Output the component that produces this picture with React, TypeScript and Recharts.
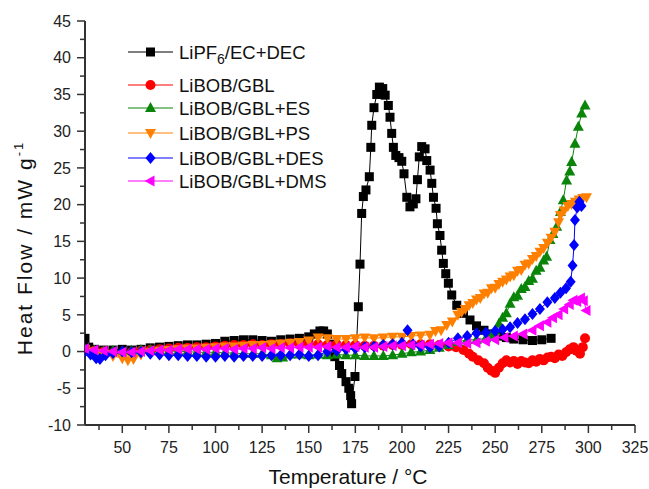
import { LineChart, Line, XAxis, YAxis, Legend } from 'recharts'

// DSC traces: [temperature °C, heat flow mW/g]
const lipf6Dec = [
  [30, 1.8], [32, 0.6], [35, 0.3], [40, 0.2], [45, 0.2], [50, 0.3], [55, 0.2], [60, 0.3], [65, 0.5], [70, 0.6],
  [75, 0.7], [80, 0.8], [85, 0.9], [90, 0.9], [95, 1.0], [100, 1.1], [105, 1.4], [110, 1.5], [115, 1.6], [120, 1.6],
  [125, 1.5], [130, 1.4], [135, 1.6], [140, 1.7], [145, 1.8], [150, 2.0], [153, 2.4], [156, 2.8], [158, 2.8], [160, 2.4],
  [162, 1.0], [164, -0.7], [166.5, -1.9], [167.7, -3.0], [170, -4.1], [171.5, -5.0], [172.5, -6.0], [173, -7.1],
  [174.8, -3.4], [176.6, 6.1], [177.5, 11.9], [178.4, 18.8], [179.3, 21.1], [180.7, 22.0], [182.5, 23.8], [183.3, 27.8],
  [183.8, 30.8], [185, 33.2], [186.5, 35.0], [187.9, 36.0], [189.7, 35.8], [191, 34.9], [192.7, 33.5], [193.6, 31.9],
  [194.5, 29.7], [195.4, 27.8], [196.7, 26.7], [198.4, 26.4], [199.9, 25.9], [201.1, 24.2], [202.6, 21.0], [204.3, 19.7],
  [206.1, 20.1], [207.5, 20.8], [208.3, 23.4], [209.3, 26.5], [210.6, 27.9], [212.4, 27.6], [213.3, 26.0], [215.1, 24.7],
  [216, 22.9], [216.9, 21.0], [218.3, 19.5], [219, 17.4], [220.4, 15.8], [221.3, 13.8], [222.2, 12.0], [223.5, 10.6],
  [224.9, 9.3], [226.7, 7.7], [229.4, 6.3], [233, 5.2], [236.5, 4.3], [240, 3.5], [244, 2.9], [248, 2.4], [252, 2.1],
  [256, 1.9], [260, 1.7], [265, 1.6], [270, 1.5], [275, 1.6], [280, 1.8],
]

const libobGbl = [
  [30, 0.2], [35, 0.1], [40, 0.0], [45, -0.2], [50, -0.3], [55, -0.1], [60, 0.1], [65, 0.2], [70, 0.3], [75, 0.4],
  [80, 0.5], [85, 0.5], [90, 0.6], [95, 0.6], [100, 0.7], [105, 0.8], [110, 0.9], [115, 0.9], [120, 1.0], [125, 0.9],
  [130, 1.0], [135, 1.0], [140, 1.1], [145, 1.0], [150, 1.1], [155, 1.0], [160, 0.9], [165, 1.0], [170, 0.9], [175, 0.9],
  [180, 0.8], [185, 0.8], [190, 0.8], [195, 0.9], [200, 0.9], [205, 1.0], [210, 1.0], [215, 1.0], [220, 0.9], [225, 0.7],
  [229, 0.6], [233, 0.2], [236, -0.3], [238, -0.7], [241, -1.2], [244, -1.6], [246, -2.2], [248, -2.6], [250, -2.9],
  [252, -2.2], [254, -1.6], [256, -1.2], [258, -1.5], [260, -1.3], [262, -1.7], [264, -1.3], [266, -1.5], [268, -1.6],
  [270, -1.2], [272, -1.4], [274, -1.0], [276, -1.2], [278, -0.8], [280, -0.7], [282, -0.9], [284, -0.4], [286, -0.6],
  [288, -0.1], [290, 0.3], [292, 0.6], [293.5, 0.1], [295.5, -0.3], [297, 0.6], [298.2, 1.8],
]

const libobGblEs = [
  [30, 0.3], [35, 0.1], [40, 0.0], [45, 0.1], [50, 0.0], [55, 0.1], [60, 0.2], [65, 0.2], [70, 0.1], [75, 0.1],
  [80, 0.0], [85, 0.0], [90, -0.1], [95, -0.1], [100, -0.1], [105, -0.2], [110, -0.2], [115, -0.3], [120, -0.3],
  [125, -0.3], [130, -0.5], [133, -0.9], [136, -0.8], [140, -0.4], [145, -0.4], [150, -0.5], [155, -0.4], [160, -0.5],
  [165, -0.4], [170, -0.5], [175, -0.5], [180, -0.6], [185, -0.6], [190, -0.6], [195, -0.5], [200, -0.3], [205, -0.1],
  [210, 0.0], [215, 0.2], [220, 0.5], [225, 0.9], [230, 1.3], [235, 1.6], [240, 1.6], [245, 1.8], [248, 2.3], [250, 2.8],
  [252, 3.8], [254, 4.6], [256, 5.2], [258, 6.5], [260, 7.4], [262, 7.6], [264, 8.5], [266, 8.8], [268, 9.6], [270, 9.9],
  [272, 11.0], [274, 11.4], [276, 12.4], [277.6, 12.9], [279.4, 15.2], [281, 16.0], [283, 17.0], [285, 19.0], [286.5, 20.6],
  [288.3, 23.3], [290, 24.5], [291, 25.8], [292.8, 28.3], [294.6, 30.6], [296.4, 32.4], [298.2, 33.5],
]

const libobGblPs = [
  [30, 0.3], [33, 0.0], [36, -0.2], [40, -0.3], [45, -0.6], [50, -0.9], [53, -1.2], [56, -1.0], [60, -0.4], [65, -0.1],
  [70, 0.1], [75, 0.2], [80, 0.3], [85, 0.4], [90, 0.4], [95, 0.5], [100, 0.6], [105, 0.7], [110, 0.7], [115, 0.8],
  [120, 0.9], [125, 0.9], [130, 1.0], [135, 1.1], [140, 1.2], [145, 1.3], [150, 1.5], [155, 1.9], [160, 1.8], [165, 1.7],
  [170, 1.7], [175, 1.8], [180, 1.9], [185, 1.8], [190, 1.9], [195, 2.0], [200, 2.0], [205, 2.1], [210, 2.2], [215, 2.3],
  [218, 2.8], [221, 2.9], [224, 3.6], [227, 4.1], [230, 5.0], [232, 5.4], [234, 5.8], [236, 6.3], [238, 6.6], [240, 7.1],
  [242, 7.3], [244, 7.9], [246, 8.0], [248, 8.6], [250, 8.7], [252, 9.2], [254, 9.5], [256, 9.8], [258, 10.2], [260, 10.4],
  [262, 11.0], [264, 11.1], [266, 11.8], [268, 12.0], [270, 12.6], [272, 13.0], [274, 13.6], [276, 14.1], [278, 14.8],
  [280, 15.5], [282, 16.3], [284, 17.6], [285, 18.6], [287, 19.2], [289, 19.8], [291, 20.1], [293, 20.4], [295, 20.7],
  [297, 20.9], [299, 21.0],
]

const libobGblDes = [
  [30, 0.0], [33, -0.4], [36, -0.9], [38, -1.0], [41, -0.5], [45, -0.2], [50, 0.0], [55, -0.1], [60, -0.1], [65, -0.3],
  [70, -0.4], [75, -0.5], [80, -0.5], [85, -0.6], [90, -0.6], [95, -0.7], [100, -0.7], [105, -0.6], [110, -0.7],
  [115, -0.6], [120, -0.6], [125, -0.6], [130, -0.5], [135, -0.5], [140, -0.5], [145, -0.4], [150, -0.6], [155, -0.5],
  [160, 0.0], [165, 0.1], [170, 0.3], [175, 0.4], [180, 0.6], [185, 0.7], [190, 0.9], [195, 1.0], [200, 1.2], [203, 2.9],
  [206, 1.0], [210, 0.7], [215, 0.6], [220, 0.7], [225, 1.2], [230, 1.8], [235, 2.1], [240, 2.5], [245, 2.6], [250, 2.8],
  [254, 3.0], [258, 3.3], [262, 3.9], [266, 4.4], [270, 5.1], [274, 5.8], [278, 6.7], [282, 7.3], [285, 8.0], [288, 8.6],
  [290.5, 9.5], [291.5, 11.7], [292.3, 14.5], [292.8, 17.9], [294, 19.6], [295.2, 20.4], [296.3, 19.8],
]

const libobGblDms = [
  [30, 0.4], [35, 0.2], [40, 0.1], [45, 0.0], [50, -0.1], [55, -0.1], [60, 0.0], [65, 0.1], [70, 0.2], [75, 0.2],
  [80, 0.3], [85, 0.3], [90, 0.3], [95, 0.3], [100, 0.4], [105, 0.4], [110, 0.3], [115, 0.4], [120, 0.4], [125, 0.5],
  [130, 0.4], [135, 0.5], [140, 0.5], [145, 0.6], [150, 0.6], [155, 0.6], [160, 0.7], [165, 0.6], [170, 0.6], [175, 0.7],
  [180, 0.6], [185, 0.6], [190, 0.7], [195, 0.8], [200, 0.8], [205, 0.9], [210, 0.9], [215, 1.0], [220, 1.1], [225, 1.2],
  [230, 1.2], [235, 1.1], [240, 1.2], [245, 1.4], [250, 1.6], [255, 1.9], [260, 2.1], [265, 2.4], [270, 2.9], [274, 3.5],
  [278, 4.0], [281, 4.6], [284, 5.0], [287, 5.8], [290, 6.4], [292, 7.0], [294, 6.8], [296, 7.3], [297.5, 6.9], [299, 5.6],
]

const xMajor = [50, 75, 100, 125, 150, 175, 200, 225, 250, 275, 300, 325]
const xMinor = [37.5, 62.5, 87.5, 112.5, 137.5, 162.5, 187.5, 212.5, 237.5, 262.5, 287.5, 312.5]
const yMajor = [-10, -5, 0, 5, 10, 15, 20, 25, 30, 35, 40, 45]
const yMinor = [-7.5, -2.5, 2.5, 7.5, 12.5, 17.5, 22.5, 27.5, 32.5, 37.5, 42.5]

const FONT = '"Liberation Sans", Arial, Helvetica, sans-serif'
const AXIS = '#333'

type Shape = 'square' | 'circle' | 'up' | 'down' | 'diamond' | 'left'

const SERIES: { key: string; label: string; color: string; shape: Shape; rows: number[][] }[] = [
  { key: 'lipf6', label: 'LiPF6/EC+DEC', color: '#000000', shape: 'square', rows: lipf6Dec },
  { key: 'gbl', label: 'LiBOB/GBL', color: '#ff0000', shape: 'circle', rows: libobGbl },
  { key: 'es', label: 'LiBOB/GBL+ES', color: '#0a850a', shape: 'up', rows: libobGblEs },
  { key: 'ps', label: 'LiBOB/GBL+PS', color: '#ff8000', shape: 'down', rows: libobGblPs },
  { key: 'des', label: 'LiBOB/GBL+DES', color: '#0000ff', shape: 'diamond', rows: libobGblDes },
  { key: 'dms', label: 'LiBOB/GBL+DMS', color: '#ff00ff', shape: 'left', rows: libobGblDms },
]

function Marker({ shape, x, y, color }: { shape: Shape; x: number; y: number; color: string }) {
  const p = (pts: number[][]) => pts.map(([a, b]) => `${x + a},${y + b}`).join(' ')
  switch (shape) {
    case 'square':
      return <rect x={x - 4.5} y={y - 4.5} width={9} height={9} fill={color} />
    case 'circle':
      return <circle cx={x} cy={y} r={5} fill={color} />
    case 'up':
      return <polygon points={p([[0, -6], [5.5, 4], [-5.5, 4]])} fill={color} />
    case 'down':
      return <polygon points={p([[0, 6], [5.5, -4], [-5.5, -4]])} fill={color} />
    case 'diamond':
      return <polygon points={p([[0, -6], [5, 0], [0, 6], [-5, 0]])} fill={color} />
    default:
      return <polygon points={p([[-6, 0], [4, -5.5], [4, 5.5]])} fill={color} />
  }
}

const makeDot = (shape: Shape, color: string) => (props: any) => {
  const { cx, cy, index } = props
  if (cx == null || cy == null) return <g key={`e${index}`} />
  return <Marker key={`m${index}`} shape={shape} x={cx} y={cy} color={color} />
}

const XTick = (props: any) => {
  const { x, y, payload } = props
  const major = payload.value % 25 === 0
  return (
    <g>
      <line x1={x} x2={x} y1={y} y2={y + (major ? 8 : 5)} stroke={AXIS} strokeWidth={1.5} />
      {major && (
        <text x={x} y={y + 28} textAnchor="middle" fontSize={16} fontFamily={FONT} fill="#222">
          {payload.value}
        </text>
      )}
    </g>
  )
}

const YTick = (props: any) => {
  const { x, y, payload } = props
  const major = Math.abs(payload.value % 5) < 1e-6
  return (
    <g>
      <line x1={x} x2={x - (major ? 8 : 5)} y1={y} y2={y} stroke={AXIS} strokeWidth={1.5} />
      {major && (
        <text x={x - 14} y={y + 5.7} textAnchor="end" fontSize={16} fontFamily={FONT} fill="#222">
          {payload.value}
        </text>
      )}
    </g>
  )
}

const ROW_Y = [17, 50, 73, 98, 123, 146]

function LegendBox() {
  return (
    <svg width={240} height={160} style={{ display: 'block' }}>
      {SERIES.map((s, i) => {
        const y = ROW_Y[i]
        return (
          <g key={s.key}>
            <line x1={8} x2={53} y1={y} y2={y} stroke={s.color} strokeWidth={1.2} />
            <Marker shape={s.shape} x={30.5} y={y} color={s.color} />
            <text x={59} y={y + 6.5} fontSize={18.5} fontFamily={FONT} fill="#111">
              {s.key === 'lipf6' ? (
                <>
                  LiPF
                  <tspan fontSize={14} dy={5}>6</tspan>
                  <tspan dy={-5}>/EC+DEC</tspan>
                </>
              ) : (
                s.label
              )}
            </text>
          </g>
        )
      })}
    </svg>
  )
}

export default function App() {
  return (
    <div style={{ position: 'absolute', left: 0, top: 0, width: 649, height: 489, background: '#fff' }}>
      <LineChart width={649} height={489} margin={{ top: 21, right: 14, bottom: 0, left: 0 }}>
        <XAxis
          type="number"
          dataKey="t"
          domain={[30, 325]}
          allowDataOverflow
          ticks={[...xMinor, ...xMajor].sort((a, b) => a - b)}
          interval={0}
          height={64}
          tickSize={0}
          tickMargin={0}
          tickLine={false}
          tick={<XTick />}
          axisLine={{ stroke: AXIS, strokeWidth: 2 }}
          label={{
            content: () => (
              <text x={348} y={484} textAnchor="middle" fontSize={21} fontFamily={FONT} fill="#111">
                Temperature / °C
              </text>
            ),
          }}
        />
        <YAxis
          type="number"
          domain={[-10, 45]}
          allowDataOverflow
          ticks={[...yMinor, ...yMajor].sort((a, b) => a - b)}
          interval={0}
          width={85}
          tickSize={0}
          tickMargin={0}
          tickLine={false}
          tick={<YTick />}
          axisLine={{ stroke: AXIS, strokeWidth: 2 }}
          label={{
            content: () => (
              <text
                x={32}
                y={248}
                transform="rotate(-90, 32, 248)"
                textAnchor="middle"
                fontSize={21}
                letterSpacing={2}
                fontFamily={FONT}
                fill="#111"
              >
                Heat Flow / mW g<tspan fontSize={13} dy={-9}>-1</tspan>
              </text>
            ),
          }}
        />
        <Legend
          layout="vertical"
          align="center"
          verticalAlign="middle"
          wrapperStyle={{ left: 120, top: 35, width: 240, height: 160 }}
          content={() => <LegendBox />}
        />
        {SERIES.map(s => (
          <Line
            key={s.key}
            data={s.rows.map(([t, v]) => ({ t, v }))}
            dataKey="v"
            name={s.label}
            type="linear"
            stroke={s.color}
            strokeWidth={1}
            dot={makeDot(s.shape, s.color)}
            activeDot={false}
            isAnimationActive={false}
          />
        ))}
      </LineChart>
    </div>
  )
}
